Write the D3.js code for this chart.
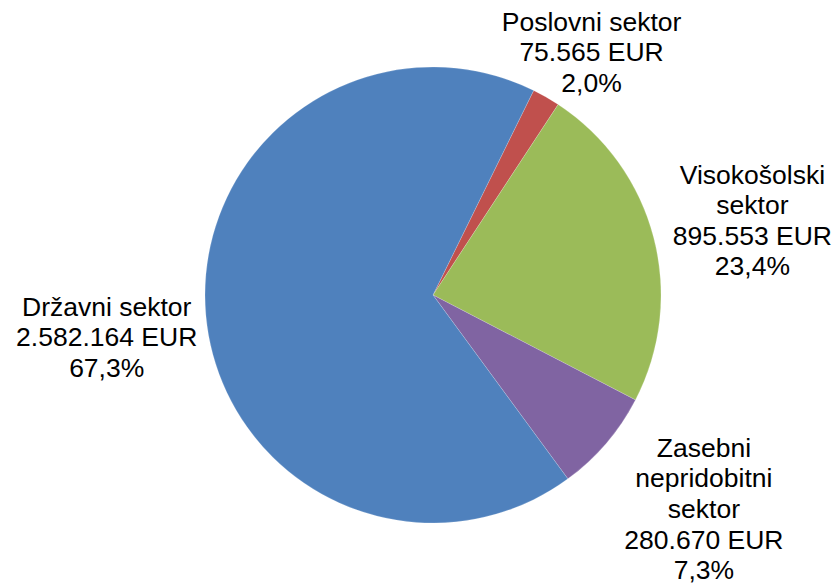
<!DOCTYPE html>
<html lang="sl">
<head>
    <meta charset="UTF-8">
    <title>Sektorji</title>
    <script src="https://cdnjs.cloudflare.com/ajax/libs/d3/7.8.5/d3.min.js"></script>
    <style>
        body {
            margin: 0;
            padding: 0;
            background-color: #ffffff;
        }
        .label text {
            font-family: "Liberation Sans", Arial, sans-serif;
            font-size: 26.5px;
            fill: #000;
        }
    </style>
</head>
<body>
    <div id="chart"></div>

    <script>
        // data, in the order Excel draws them (clockwise from the red slice)
        const sectors = ["Poslovni sektor", "Visokošolski sektor", "Zasebni nepridobitni sektor", "Državni sektor"];
        const labelLines = [
            ["Poslovni sektor"],
            ["Visokošolski", "sektor"],
            ["Zasebni", "nepridobitni", "sektor"],
            ["Državni sektor"]
        ];
        const amounts = [75565, 895553, 280670, 2582164];
        const colors = ["#C0504D", "#9BBB59", "#8064A2", "#4F81BD"];

        const width = 837;
        const height = 587;
        const cx = 433, cy = 295, radius = 228;
        const firstSliceAngle = 26.2 * Math.PI / 180;
        const lineHeight = 30.6;

        // label placement (distance from centre, angle nudge in degrees)
        const labelRadius = [290, 328, 345, 329];
        const labelNudge = [3.4, 1.5, -2.3, -2.3];

        const fmtEur = d3.formatLocale({ decimal: ",", thousands: ".", grouping: [3], currency: ["", " EUR"] });
        const fmtNum = fmtEur.format(",d");
        const fmtPct = fmtEur.format(".1%");

        const svg = d3.select("#chart")
            .append("svg")
            .attr("width", width)
            .attr("height", height);

        const g = svg.append("g").attr("transform", `translate(${cx},${cy})`);

        const pie = d3.pie()
            .sort(null)
            .value(d => d)
            .startAngle(firstSliceAngle)
            .endAngle(firstSliceAngle + 2 * Math.PI);

        const arcs = pie(amounts);
        const total = d3.sum(amounts);

        const arc = d3.arc().innerRadius(0).outerRadius(radius);

        g.selectAll("path")
            .data(arcs)
            .enter()
            .append("path")
            .attr("d", arc)
            .style("fill", (d, i) => colors[i])
            .style("stroke", "#fff")
            .style("stroke-width", 0.3)
            .style("stroke-opacity", 0.6);

        const labels = g.append("g")
            .attr("class", "label")
            .selectAll("text")
            .data(arcs)
            .enter()
            .append("text")
            .attr("text-anchor", "middle")
            .attr("transform", (d, i) => {
                const a = (d.startAngle + d.endAngle) / 2 + labelNudge[i] * Math.PI / 180;
                const r = labelRadius[i];
                return `translate(${Math.sin(a) * r},${-Math.cos(a) * r})`;
            });

        labels.each(function(d, i) {
            const lines = labelLines[i].concat([fmtNum(amounts[i]) + " EUR", fmtPct(amounts[i] / total)]);
            const n = lines.length;
            d3.select(this).selectAll("tspan")
                .data(lines)
                .enter()
                .append("tspan")
                .attr("x", 0)
                .attr("y", (l, k) => (k - (n - 1) / 2) * lineHeight)
                .attr("dy", "0.35em")
                .text(l => l);
        });
    </script>
</body>
</html>
